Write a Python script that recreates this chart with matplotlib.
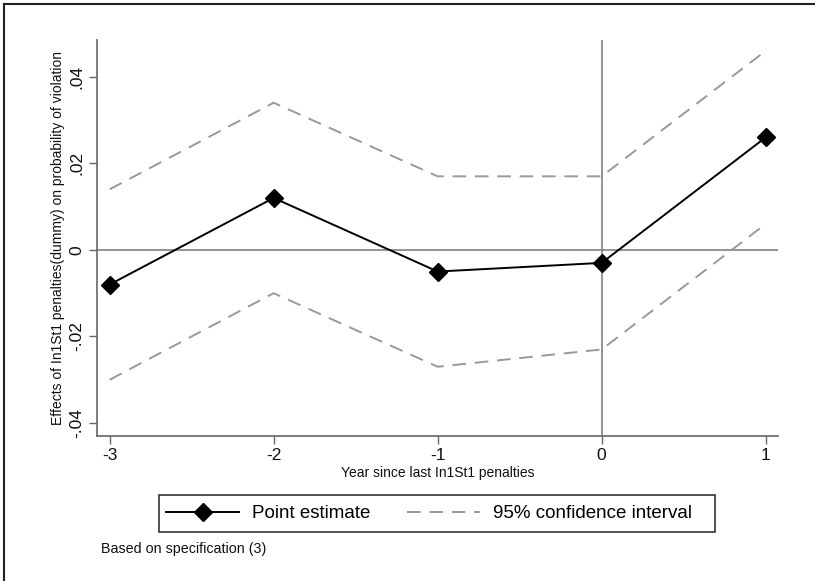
import matplotlib
matplotlib.use("Agg")
import matplotlib.pyplot as plt
from matplotlib.lines import Line2D
from matplotlib.patches import Rectangle

plt.rcParams['font.family'] = ['Liberation Sans', 'DejaVu Sans']

years = [-3, -2, -1, 0, 1]
point_estimate = [-0.008, 0.012, -0.005, -0.003, 0.026]
ci_upper = [0.014, 0.034, 0.017, 0.017, 0.046]
ci_lower = [-0.030, -0.010, -0.027, -0.023, 0.006]
x_ticks = [-3, -2, -1, 0, 1]
y_ticks = [-0.04, -0.02, 0, 0.02, 0.04]
y_tick_labels = ['-.04', '-.02', '0', '.02', '.04']

W, H = 815, 581
fig = plt.figure(figsize=(W/100, H/100), dpi=100)
ax = fig.add_axes([97/W, 1-436/H, (778-97)/W, (436-40)/H])

axis_col = '#666666'
ax.axhline(0, color='#777777', lw=1.1, zorder=1)
ax.axvline(0, color='#777777', lw=1.1, zorder=1)

ax.plot(years, ci_upper, color='#999999', lw=1.4, dashes=(7, 4.5), zorder=2)
ax.plot(years, ci_lower, color='#999999', lw=1.4, dashes=(7, 4.5), zorder=2)
ax.plot(years, point_estimate, color='black', lw=1.4, marker='D', markersize=9.5,
        markerfacecolor='black', markeredgecolor='black', zorder=3)

ax.set_xlim(-3.077, 1.075)
ax.set_ylim(-0.043, 0.0485)
ax.set_xticks(x_ticks)
ax.set_xticklabels([str(v) for v in x_ticks])
ax.set_yticks(y_ticks)
ax.set_yticklabels(y_tick_labels, rotation=90, va='center')

for s in ['top', 'right']:
    ax.spines[s].set_visible(False)
for s in ['left', 'bottom']:
    ax.spines[s].set_color(axis_col)
    ax.spines[s].set_linewidth(1.2)
ax.tick_params(axis='both', direction='out', length=6, width=1.0, color=axis_col,
               labelsize=12.5, labelcolor='#111111', pad=3)

ax.set_xlabel('Year since last In1St1 penalties', fontsize=10, labelpad=2, color='#111111')
ax.set_ylabel('Effects of In1St1 penalties(dummy) on probability of violation',
              fontsize=10, labelpad=3, color='#111111')

handles = [
    Line2D([], [], color='black', lw=1.4, marker='D', markersize=9.5),
    Line2D([], [], color='#999999', lw=1.4, dashes=(7, 4.5)),
]
leg = fig.legend(handles, ['Point estimate', '95% confidence interval'],
                 loc='center left', bbox_to_anchor=(166/W, 1-513.5/H),
                 ncol=2, fontsize=13.5, frameon=False,
                 handlelength=3.9, handletextpad=0.69, columnspacing=1.95,
                 borderpad=0, borderaxespad=0)

fig.add_artist(Rectangle((159/W, 1-531.5/H), (715-159)/W, 36.5/H, transform=fig.transFigure,
                         fill=False, edgecolor='#333333', lw=1.2))

fig.text(101/W, 1-549/H, 'Based on specification (3)', fontsize=10.3, va='center', ha='left',
         color='#111111')

# outer frame (left and top edges)
fig.add_artist(Line2D([4/W, 4/W], [0, 1-4/H], color='#222222', lw=1.5, transform=fig.transFigure))
fig.add_artist(Line2D([4/W, 1], [1-4/H, 1-4/H], color='#222222', lw=1.5, transform=fig.transFigure))

fig.savefig('out.png', dpi=100)
